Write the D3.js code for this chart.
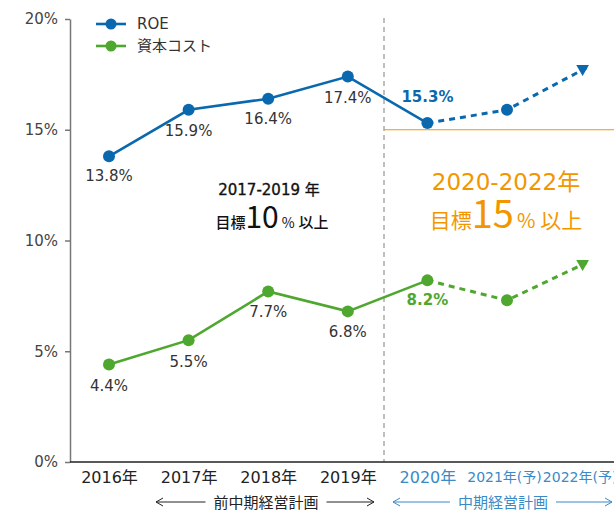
<!DOCTYPE html>
<html><head><meta charset="utf-8">
<script src="https://cdn.jsdelivr.net/npm/d3@7"></script>
<style>body{margin:0;background:#fff}svg{display:block}</style>
</head><body><svg id="c" width="614" height="511"></svg>
<script>
const years = ["2016年","2017年","2018年","2019年","2020年","2021年(予)","2022年(予)"];
const roe = [13.8, 15.9, 16.4, 17.4, 15.3, 15.9, 17.8];
const capCost = [4.4, 5.5, 7.7, 6.8, 8.2, 7.3, 9.0];
const yTicks = [0, 5, 10, 15, 20];
const seriesNames = ["ROE", "資本コスト"];
const targetValue = 15;
const actualCount = 5; // 2016-2020 actual, then forecast

const FONT = '"DejaVu Sans","Noto Sans CJK JP",sans-serif';
const JFONT = '"Noto Sans CJK JP",sans-serif';
const BLUE = "#0a69ae", GREEN = "#4ea72e", ORANGE = "#f29600", LBLUE = "#3a8ac6", TXT = "#333";

const svg = d3.select("#c").style("font-family", FONT);
const x = d3.scalePoint().domain(years).range([109, 586.6]);
const y = d3.scaleLinear().domain([0, 20]).range([462, 19]);

// divider
svg.append("line").attr("x1",384).attr("x2",384).attr("y1",18).attr("y2",462)
  .attr("stroke","#aaa").attr("stroke-width",1.5).attr("stroke-dasharray","5,4");
// target line
svg.append("line").attr("x1",384).attr("x2",614).attr("y1",y(targetValue)).attr("y2",y(targetValue))
  .attr("stroke",ORANGE).attr("stroke-width",1.2);

// y axis
const ya = svg.append("g").attr("transform","translate(70,0)")
  .call(d3.axisLeft(y).tickValues(yTicks).tickFormat(d=>d+"%").tickSize(5).tickSizeOuter(0).tickPadding(7));
ya.select(".domain").attr("stroke","#777").attr("stroke-width",1.5);
ya.selectAll(".tick line").attr("stroke","#777").attr("stroke-width",1.5);
ya.selectAll(".tick text").attr("font-family",FONT).attr("font-size",15).attr("fill","#444");

// x axis
svg.append("line").attr("x1",70).attr("x2",614).attr("y1",462).attr("y2",462).attr("stroke","#222").attr("stroke-width",1.5);
const xa = svg.append("g").attr("transform","translate(0,462)")
  .call(d3.axisBottom(x).tickSize(0).tickPadding(10));
xa.select(".domain").remove();
xa.selectAll(".tick text").attr("font-family",FONT)
  .attr("font-size",(d,i)=> i>=5 ? 14 : 16)
  .attr("dx",(d,i)=> i===5 ? -3 : i===6 ? -7 : 0)
  .attr("fill",(d,i)=> i>=actualCount-1 ? LBLUE : "#222");

// series
function drawSeries(vals, color) {
  const pts = vals.map((v,i)=>[x(years[i]), y(v)]);
  const line = d3.line();
  svg.append("path").attr("d", line(pts.slice(0, actualCount)))
    .attr("fill","none").attr("stroke",color).attr("stroke-width",2.6);
  svg.append("path").attr("d", line(pts.slice(actualCount-1)))
    .attr("fill","none").attr("stroke",color).attr("stroke-width",3).attr("stroke-dasharray","6,5");
  svg.selectAll(null).data(pts.slice(0, vals.length-1)).enter().append("circle")
    .attr("cx",d=>d[0]).attr("cy",d=>d[1]).attr("r",6).attr("fill",color);
  const last = pts[pts.length-1];
  svg.append("path").attr("d", d3.symbol(d3.symbolTriangle, 70)())
    .attr("transform",`translate(${last[0]-4},${last[1]+1}) rotate(180)`).attr("fill",color);
}
drawSeries(roe, BLUE);
drawSeries(capCost, GREEN);

// data labels
function labels(vals, offsets, highlight) {
  vals.slice(0, actualCount).forEach((v,i)=>{
    const hl = i === actualCount-1;
    svg.append("text").attr("x", x(years[i])).attr("y", y(v)+offsets[i])
      .attr("text-anchor","middle").attr("font-size",15)
      .attr("font-weight", hl ? 700 : 400)
      .attr("fill", hl ? highlight : TXT).text(v.toFixed(1)+"%");
  });
}
labels(roe, [25,26,25,26,-21], BLUE);
labels(capCost, [26,27,26,26,25], GREEN);

// legend
seriesNames.forEach((n,i)=>{
  const c = i===0 ? BLUE : GREEN, ly = 24 + i*22;
  svg.append("line").attr("x1",96).attr("x2",126).attr("y1",ly).attr("y2",ly).attr("stroke",c).attr("stroke-width",2.6);
  svg.append("circle").attr("cx",111).attr("cy",ly).attr("r",5.5).attr("fill",c);
  svg.append("text").attr("x",137).attr("y",ly+5).attr("font-size",15).attr("fill",TXT).text(n);
});

// annotations
svg.append("text").attr("x",269).attr("y",195).attr("text-anchor","middle")
  .attr("font-size",15).attr("fill","#111").attr("stroke","#111").attr("stroke-width",0.35).text("2017-2019 年");
const t1 = svg.append("text").attr("x",272).attr("y",228).attr("text-anchor","middle").attr("fill","#111");
t1.append("tspan").attr("font-family",JFONT).attr("font-weight",500).attr("font-size",15).text("目標");
t1.append("tspan").attr("font-family",JFONT).attr("font-size",30).text("10");
t1.append("tspan").attr("font-family",JFONT).attr("font-size",14).attr("dx",3).text("%");
t1.append("tspan").attr("font-family",JFONT).attr("font-weight",500).attr("font-size",15).attr("dx",4).text("以上");

svg.append("text").attr("x",506).attr("y",190).attr("text-anchor","middle")
  .attr("font-size",23).attr("fill",ORANGE).text("2020-2022年");
const t2 = svg.append("text").attr("x",506).attr("y",228).attr("text-anchor","middle").attr("fill",ORANGE);
t2.append("tspan").attr("font-family",JFONT).attr("font-size",21).text("目標");
t2.append("tspan").attr("font-family",JFONT).attr("font-size",38).text("15");
t2.append("tspan").attr("font-family",JFONT).attr("font-size",20).attr("dx",3).text("%");
t2.append("tspan").attr("font-family",JFONT).attr("font-size",21).attr("dx",5).text("以上");

// period arrows
function periodArrow(x1, x2, tx, label, color) {
  const ay = 502;
  const g = svg.append("g").attr("stroke",color).attr("stroke-width",1).attr("fill","none");
  const half = label.length * 7.5 + 8;
  g.append("line").attr("x1",x1).attr("x2",tx-half).attr("y1",ay).attr("y2",ay);
  g.append("line").attr("x1",tx+half).attr("x2",x2).attr("y1",ay).attr("y2",ay);
  g.append("path").attr("d",`M${x1+7},${ay-4}L${x1},${ay}L${x1+7},${ay+4}`);
  g.append("path").attr("d",`M${x2-7},${ay-4}L${x2},${ay}L${x2-7},${ay+4}`);
  svg.append("text").attr("x",tx).attr("y",ay+6).attr("font-family",JFONT).attr("text-anchor","middle")
    .attr("font-size",15).attr("fill",color).text(label);
}
periodArrow(156, 374, 266, "前中期経営計画", "#222");
periodArrow(393, 612, 503, "中期経営計画", LBLUE);
</script></body></html>
